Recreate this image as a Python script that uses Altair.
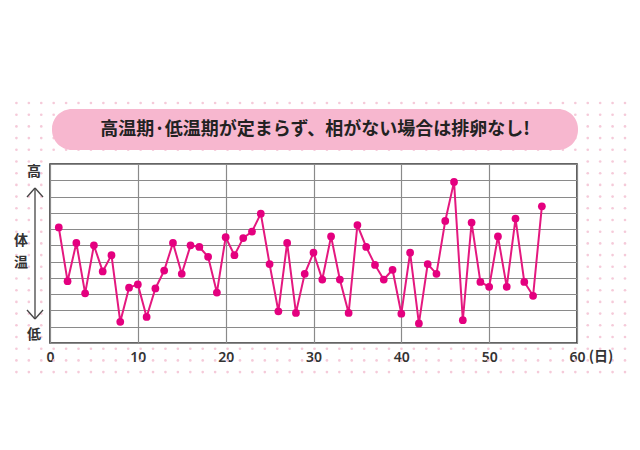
import altair as alt
import pandas as pd
import numpy as np

# ---- data ----
days = list(range(1, 57))
temps = [7.1, 3.8, 6.15, 3.05, 6.0, 4.4, 5.4, 1.3, 3.4, 3.6,
         1.6, 3.35, 4.45, 6.15, 4.25, 6.0, 5.9, 5.3, 3.1, 6.5,
         5.4, 6.45, 6.85, 7.95, 4.85, 1.95, 6.15, 1.85, 4.25, 5.55,
         3.9, 6.55, 3.9, 1.85, 7.25, 5.9, 4.8, 3.9, 4.5, 1.8,
         5.55, 1.2, 4.85, 4.25, 7.5, 9.9, 1.4, 7.4, 3.75, 3.45,
         6.55, 3.45, 7.65, 3.75, 2.9, 8.4]
x_ticks = [0, 10, 20, 30, 40, 50, 60]
y_grid = list(range(0, 12))
title_text = "高温期·低温期が定まらず、相がない場合は排卵なし!"
y_high = "高"
y_low = "低"
y_name = ["体", "温"]
x_unit = "(日)"

W, H = 527, 179
df = pd.DataFrame({"day": days, "temp": temps})

# decorative dot pattern (pixel space, outside the plot area)
cols = np.arange(4, 641, 12.42) - 50
rows = np.arange(103, 375, 11.7) - 164
pts = [(cx, cy) for cy in rows for cx in cols
       if not (-3 <= cx <= W + 3 and -3 <= cy <= H + 3)]
dots_df = pd.DataFrame(pts, columns=["px", "py"])

one = pd.DataFrame({"a": [0]})

dots = alt.Chart(dots_df).mark_circle(size=7, color="#f4c4d5", opacity=0.9).encode(
    x=alt.X("px:Q", scale=None, axis=None),
    y=alt.Y("py:Q", scale=None, axis=None),
)

xs = alt.Scale(domain=[0, 60], nice=False)
ys = alt.Scale(domain=[0, 11], nice=False)
X = alt.X("day:Q", scale=xs, title=None,
          axis=alt.Axis(values=x_ticks, grid=True, gridColor="#8a8a8a", gridWidth=1.2,
                        domain=False, ticks=False, labelPadding=7, labelFontSize=14,
                        labelColor="#333", labelFont="Noto Sans", labelFontWeight=600,
                        labelFlush=False))
Y = alt.Y("temp:Q", scale=ys, title=None,
          axis=alt.Axis(values=y_grid, grid=True, gridColor="#8a8a8a", gridWidth=1.2,
                        domain=False, ticks=False, labels=False))

base = alt.Chart(df)
line = base.mark_line(color="#e4187f", strokeWidth=2).encode(x=X, y=Y)
points = base.mark_circle(color="#e4007f", size=60, opacity=1).encode(x=X, y=Y)

box = alt.Chart(one).mark_rect(color="#f7b7cf", cornerRadius=20).encode(
    x=alt.value(2), x2=alt.value(528), y=alt.value(-55), y2=alt.value(-14))
title = alt.Chart(one).mark_text(text=title_text, font="Noto Sans CJK JP", fontSize=18,
                                 fontWeight="bold", color="#222", align="center",
                                 baseline="middle").encode(
    x=alt.value(265), y=alt.value(-34))

lab_style = dict(font="Noto Sans CJK JP", fontWeight="bold", color="#333",
                 align="center", baseline="middle")
hi = alt.Chart(one).mark_text(text=y_high, fontSize=14, **lab_style).encode(
    x=alt.value(-16), y=alt.value(8))
lo = alt.Chart(one).mark_text(text=y_low, fontSize=14, **lab_style).encode(
    x=alt.value(-16), y=alt.value(171))
nm1 = alt.Chart(one).mark_text(text=y_name[0], fontSize=14, **lab_style).encode(
    x=alt.value(-29), y=alt.value(77))
nm2 = alt.Chart(one).mark_text(text=y_name[1], fontSize=14, **lab_style).encode(
    x=alt.value(-29), y=alt.value(99))
unit = alt.Chart(one).mark_text(text=x_unit, fontSize=14, **lab_style).encode(
    x=alt.value(551), y=alt.value(193))

ar = dict(color="#444", strokeWidth=1.3)
shaft = alt.Chart(one).mark_rule(**ar).encode(
    x=alt.value(-15), y=alt.value(24), y2=alt.value(155))
a1 = alt.Chart(one).mark_rule(**ar).encode(
    x=alt.value(-15), x2=alt.value(-23), y=alt.value(24), y2=alt.value(33))
a2 = alt.Chart(one).mark_rule(**ar).encode(
    x=alt.value(-15), x2=alt.value(-7), y=alt.value(24), y2=alt.value(33))
a3 = alt.Chart(one).mark_rule(**ar).encode(
    x=alt.value(-15), x2=alt.value(-23), y=alt.value(155), y2=alt.value(146))
a4 = alt.Chart(one).mark_rule(**ar).encode(
    x=alt.value(-15), x2=alt.value(-7), y=alt.value(155), y2=alt.value(146))

chart = alt.layer(
    dots, box, title, line, points, hi, lo, nm1, nm2, unit, shaft, a1, a2, a3, a4
).properties(
    width=W, height=H,
    autosize=alt.AutoSizeParams(type="none"),
    padding={"left": 42, "top": 156, "right": 55, "bottom": 99},
    background="white",
).configure_view(
    stroke="#333", strokeWidth=1.6
)

chart.save("out.html", embed_options={"renderer": "svg", "actions": False})
